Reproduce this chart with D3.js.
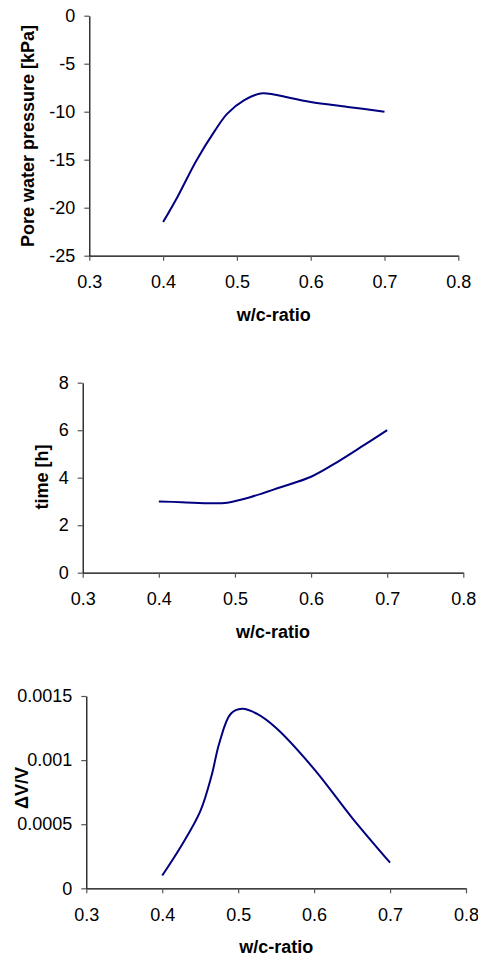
<!DOCTYPE html>
<html>
<head>
<meta charset="utf-8">
<script src="https://cdn.jsdelivr.net/npm/d3@7"></script>
<style>
  body { margin: 0; background: #fff; }
  svg { display: block; font-family: Arial, "Liberation Sans", sans-serif; }
  .tick text { font-size: 18px; fill: #000; }
  .axis-title { font-size: 18px; font-weight: bold; fill: #000; }
</style>
</head>
<body>
<svg id="chart" width="478" height="959"></svg>
<script>
// values
const wcPressure = [0.4, 0.42, 0.445, 0.47, 0.487, 0.51, 0.532, 0.55, 0.565, 0.6, 0.65, 0.7];
const pressure = [-21.5, -18.8, -15.1, -12, -10.2, -8.8, -8.1, -8.2, -8.45, -9, -9.5, -10];

const wcTime = [0.4, 0.43, 0.47, 0.49, 0.52, 0.56, 0.6, 0.635, 0.67, 0.7];
const time = [3, 2.97, 2.92, 2.95, 3.18, 3.6, 4.04, 4.67, 5.38, 6];

const wcVolume = [0.4, 0.425, 0.45, 0.465, 0.475, 0.49, 0.505, 0.525, 0.55, 0.6, 0.65, 0.7];
const volume = [0.0001, 0.00033, 0.0006, 0.00088, 0.00113, 0.00136, 0.0014, 0.00136, 0.00125, 0.00093, 0.00055, 0.0002];

const xTicks = [0.3, 0.4, 0.5, 0.6, 0.7, 0.8];
const pressureTicks = [0, -5, -10, -15, -20, -25];
const timeTicks = [0, 2, 4, 6, 8];
const volumeTicks = [0, 0.0005, 0.001, 0.0015];

const svg = d3.select("#chart");

function drawPanel(p) {
    const x = d3.scaleLinear().domain([0.3, 0.8]).range([p.left, p.right]);
    const y = d3.scaleLinear().domain(p.yDomain).range([p.bottom, p.top]);

    const g = svg.append("g");

    const xAxis = g.append("g")
        .attr("transform", `translate(0,${p.bottom})`)
        .call(d3.axisBottom(x).tickValues(xTicks).tickFormat(d => d.toFixed(1))
            .tickSizeInner(5).tickSizeOuter(0).tickPadding(15));

    const yAxis = g.append("g")
        .attr("transform", `translate(${p.left},0)`)
        .call(d3.axisLeft(y).tickValues(p.yTicks).tickFormat(d => String(+d.toFixed(4)))
            .tickSizeInner(5).tickSizeOuter(0).tickPadding(9));

    [xAxis, yAxis].forEach(a => {
        a.select(".domain").attr("stroke", "#000").attr("stroke-width", 1.2);
        a.selectAll(".tick line").attr("stroke", "#555").attr("stroke-width", 1.2);
    });

    // smoothed line like the original spreadsheet chart
    const line = d3.line()
        .x(d => x(d[0]))
        .y(d => y(d[1]))
        .curve(d3.curveCatmullRom.alpha(0.5));

    g.append("path")
        .datum(d3.zip(p.xs, p.ys))
        .attr("fill", "none")
        .attr("stroke", "#000080")
        .attr("stroke-width", 2)
        .attr("d", line);

    g.append("text")
        .attr("class", "axis-title")
        .attr("x", (p.left + p.right) / 2)
        .attr("y", p.bottom + 59)
        .attr("text-anchor", "middle")
        .attr("dominant-baseline", "central")
        .text("w/c-ratio");

    g.append("text")
        .attr("class", "axis-title")
        .attr("transform", `translate(${p.yTitleX},${p.yTitleY}) rotate(-90)`)
        .attr("text-anchor", "middle")
        .attr("dominant-baseline", "central")
        .text(p.yTitle);
}

drawPanel({
    left: 89.3, right: 458.3, top: 15.7, bottom: 255.7,
    yDomain: [-25, 0], yTicks: pressureTicks,
    xs: wcPressure, ys: pressure,
    yTitle: "Pore water pressure [kPa]", yTitleX: 28, yTitleY: 136
});

drawPanel({
    left: 82.7, right: 463.3, top: 382.7, bottom: 572.7,
    yDomain: [0, 8], yTicks: timeTicks,
    xs: wcTime, ys: time,
    yTitle: "time [h]", yTitleX: 41.7, yTitleY: 477
});

drawPanel({
    left: 86.3, right: 466, top: 696, bottom: 888.3,
    yDomain: [0, 0.0015], yTicks: volumeTicks,
    xs: wcVolume, ys: volume,
    yTitle: "\u0394V/V", yTitleX: 21.7, yTitleY: 788
});
</script>
</body>
</html>
